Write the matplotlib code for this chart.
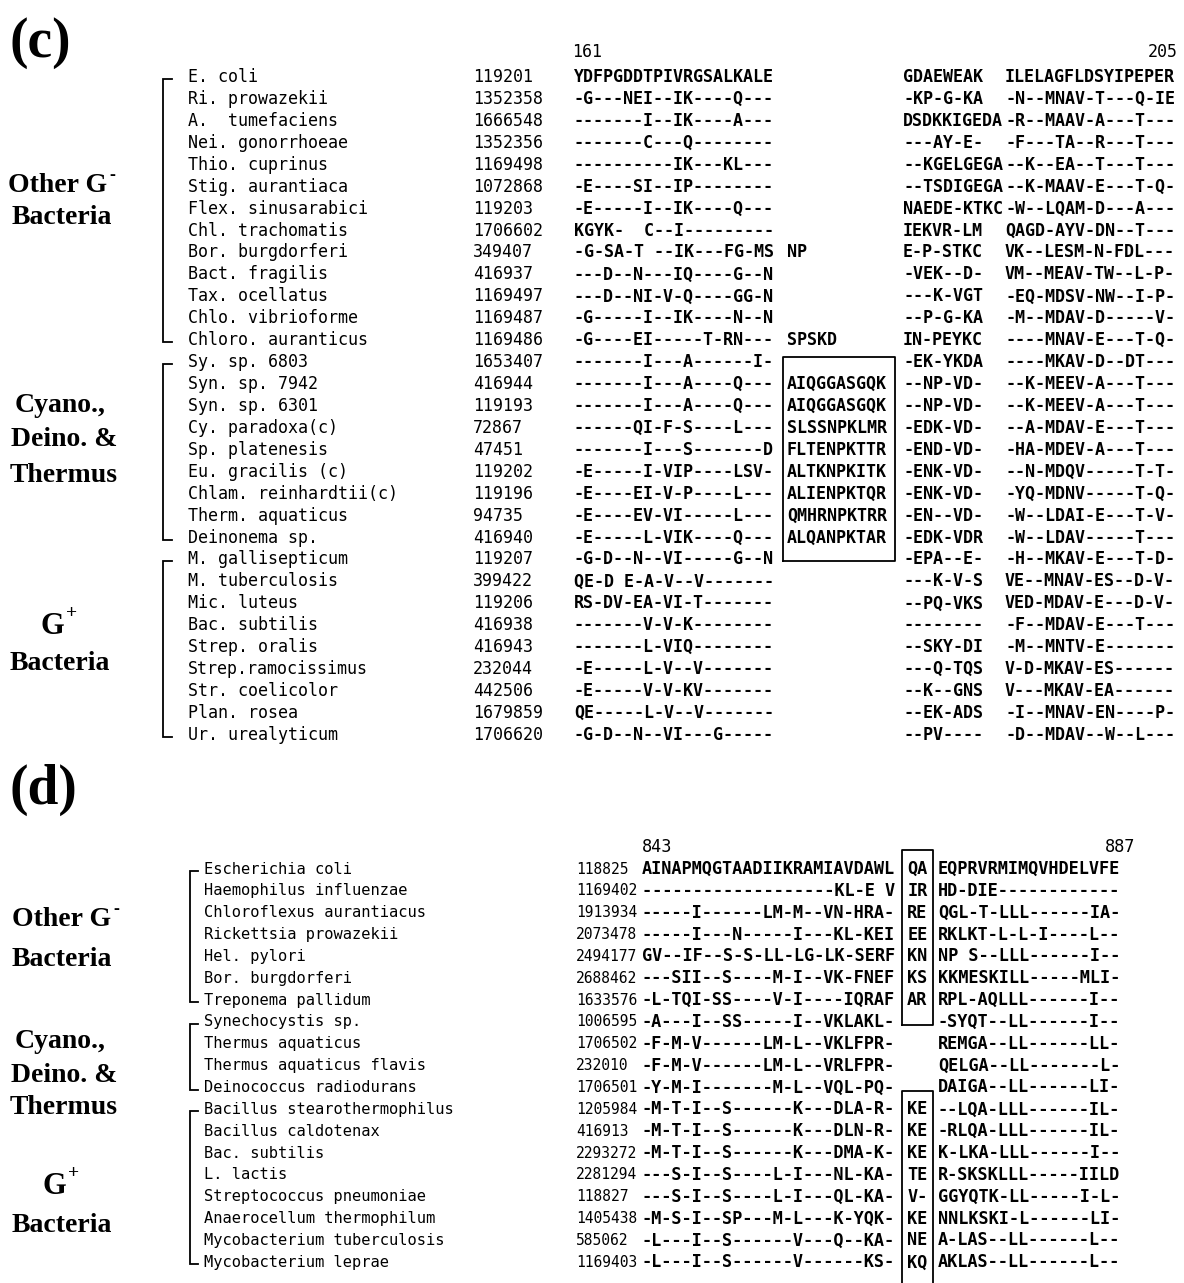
import matplotlib
matplotlib.use('Agg')
import matplotlib.pyplot as plt

# ---------------- data: panel (c) ----------------
c_names = ["E. coli", "Ri. prowazekii", "A.  tumefaciens", "Nei. gonorrhoeae", "Thio. cuprinus",
           "Stig. aurantiaca", "Flex. sinusarabici", "Chl. trachomatis", "Bor. burgdorferi",
           "Bact. fragilis", "Tax. ocellatus", "Chlo. vibrioforme", "Chloro. auranticus",
           "Sy. sp. 6803", "Syn. sp. 7942", "Syn. sp. 6301", "Cy. paradoxa(c)", "Sp. platenesis",
           "Eu. gracilis (c)", "Chlam. reinhardtii(c)", "Therm. aquaticus", "Deinonema sp.",
           "M. gallisepticum", "M. tuberculosis", "Mic. luteus", "Bac. subtilis", "Strep. oralis",
           "Strep.ramocissimus", "Str. coelicolor", "Plan. rosea", "Ur. urealyticum"]
c_ids = ["119201", "1352358", "1666548", "1352356", "1169498", "1072868", "119203", "1706602",
         "349407", "416937", "1169497", "1169487", "1169486", "1653407", "416944", "119193",
         "72867", "47451", "119202", "119196", "94735", "416940", "119207", "399422", "119206",
         "416938", "416943", "232044", "442506", "1679859", "1706620"]
c_segA = ["YDFPGDDTPIVRGSALKALE", "-G---NEI--IK----Q---", "-------I--IK----A---",
          "-------C---Q--------", "----------IK---KL---", "-E----SI--IP--------",
          "-E-----I--IK----Q---", "KGYK-  C--I---------", "-G-SA-T --IK---FG-MS",
          "---D--N---IQ----G--N", "---D--NI-V-Q----GG-N", "-G-----I--IK----N--N",
          "-G----EI-----T-RN---", "-------I---A------I-", "-------I---A----Q---",
          "-------I---A----Q---", "------QI-F-S----L---", "-------I---S-------D",
          "-E-----I-VIP----LSV-", "-E----EI-V-P----L---", "-E----EV-VI-----L---",
          "-E-----L-VIK----Q---", "-G-D--N--VI-----G--N", "QE-D E-A-V--V-------",
          "RS-DV-EA-VI-T-------", "-------V-V-K--------", "-------L-VIQ--------",
          "-E-----L-V--V-------", "-E-----V-V-KV-------", "QE-----L-V--V-------",
          "-G-D--N--VI---G-----"]
c_insert = ["", "", "", "", "", "", "", "", "NP", "", "", "", "SPSKD", "",
            "AIQGGASGQK", "AIQGGASGQK", "SLSSNPKLMR", "FLTENPKTTR", "ALTKNPKITK",
            "ALIENPKTQR", "QMHRNPKTRR", "ALQANPKTAR", "", "", "", "", "", "", "", "", ""]
c_segC = ["GDAEWEAK", "-KP-G-KA", "DSDKKIGEDA", "---AY-E-", "--KGELGEGA", "--TSDIGEGA",
          "NAEDE-KTKC", "IEKVR-LM", "E-P-STKC", "-VEK--D-", "---K-VGT", "--P-G-KA",
          "IN-PEYKC", "-EK-YKDA", "--NP-VD-", "--NP-VD-", "-EDK-VD-", "-END-VD-",
          "-ENK-VD-", "-ENK-VD-", "-EN--VD-", "-EDK-VDR", "-EPA--E-", "---K-V-S",
          "--PQ-VKS", "--------", "--SKY-DI", "---Q-TQS", "--K--GNS", "--EK-ADS", "--PV----"]
c_segD = ["ILELAGFLDSYIPEPER", "-N--MNAV-T---Q-IE", "-R--MAAV-A---T---", "-F---TA--R---T---",
          "--K--EA--T---T---", "--K-MAAV-E---T-Q-", "-W--LQAM-D---A---", "QAGD-AYV-DN--T---",
          "VK--LESM-N-FDL---", "VM--MEAV-TW--L-P-", "-EQ-MDSV-NW--I-P-", "-M--MDAV-D-----V-",
          "----MNAV-E---T-Q-", "----MKAV-D--DT---", "--K-MEEV-A---T---", "--K-MEEV-A---T---",
          "--A-MDAV-E---T---", "-HA-MDEV-A---T---", "--N-MDQV-----T-T-", "-YQ-MDNV-----T-Q-",
          "-W--LDAI-E---T-V-", "-W--LDAV-----T---", "-H--MKAV-E---T-D-", "VE--MNAV-ES--D-V-",
          "VED-MDAV-E---D-V-", "-F--MDAV-E---T---", "-M--MNTV-E-------", "V-D-MKAV-ES------",
          "V---MKAV-EA------", "-I--MNAV-EN----P-", "-D--MDAV--W--L---"]
c_groups = [(0, 12), (13, 21), (22, 30)]
c_box_rows = (13, 22)
c_start, c_end = "161", "205"

# ---------------- data: panel (d) ----------------
d_names = ["Escherichia coli", "Haemophilus influenzae", "Chloroflexus aurantiacus",
           "Rickettsia prowazekii", "Hel. pylori", "Bor. burgdorferi", "Treponema pallidum",
           "Synechocystis sp.", "Thermus aquaticus", "Thermus aquaticus flavis",
           "Deinococcus radiodurans", "Bacillus stearothermophilus", "Bacillus caldotenax",
           "Bac. subtilis", "L. lactis", "Streptococcus pneumoniae", "Anaerocellum thermophilum",
           "Mycobacterium tuberculosis", "Mycobacterium leprae"]
d_ids = ["118825", "1169402", "1913934", "2073478", "2494177", "2688462", "1633576", "1006595",
         "1706502", "232010", "1706501", "1205984", "416913", "2293272", "2281294", "118827",
         "1405438", "585062", "1169403"]
d_segA = ["AINAPMQGTAADIIKRAMIAVDAWL", "-------------------KL-E V", "-----I------LM-M--VN-HRA-",
          "-----I---N-----I---KL-KEI", "GV--IF--S-S-LL-LG-LK-SERF", "---SII--S----M-I--VK-FNEF",
          "-L-TQI-SS----V-I----IQRAF", "-A---I--SS-----I--VKLAKL-", "-F-M-V------LM-L--VKLFPR-",
          "-F-M-V------LM-L--VRLFPR-", "-Y-M-I-------M-L--VQL-PQ-", "-M-T-I--S------K---DLA-R-",
          "-M-T-I--S------K---DLN-R-", "-M-T-I--S------K---DMA-K-", "---S-I--S----L-I---NL-KA-",
          "---S-I--S----L-I---QL-KA-", "-M-S-I--SP---M-L---K-YQK-", "-L---I--S------V---Q--KA-",
          "-L---I--S------V------KS-"]
d_boxed = ["QA", "IR", "RE", "EE", "KN", "KS", "AR", "", "", "", "",
           "KE", "KE", "KE", "TE", "V-", "KE", "NE", "KQ"]
d_segC = ["EQPRVRMIMQVHDELVFE", "HD-DIE------------", "QGL-T-LLL------IA-", "RKLKT-L-L-I----L--",
          "NP S--LLL------I--", "KKMESKILL-----MLI-", "RPL-AQLLL------I--", "-SYQT--LL------I--",
          "REMGA--LL------LL-", "QELGA--LL-------L-", "DAIGA--LL------LI-", "--LQA-LLL------IL-",
          "-RLQA-LLL------IL-", "K-LKA-LLL------I--", "R-SKSKLLL-----IILD", "GGYQTK-LL-----I-L-",
          "NNLKSKI-L------LI-", "A-LAS--LL------L--", "AKLAS--LL------L--"]
d_groups = [(0, 6), (7, 10), (11, 18)]
d_box1_rows = (0, 7)
d_box2_rows = (10, 18)
d_start, d_end = "843", "887"

# ---------------- drawing ----------------
W, H = 1184, 1283
fig = plt.figure(figsize=(W / 100, H / 100), dpi=100)
ax = fig.add_axes([0, 0, 1, 1])
ax.set_xlim(0, W)
ax.set_ylim(H, 0)
ax.axis('off')

MONO = 'DejaVu Sans Mono'
SERIF = 'Liberation Serif'
LW = 1.3


def mono(x, y, s, fs, **kw):
    ax.text(x, y, s, family=MONO, fontsize=fs, ha=kw.pop('ha', 'left'), va='center', **kw)


def serif(x, y, s, fs, ha='center'):
    ax.text(x, y, s, family=SERIF, fontsize=fs, fontweight='bold', ha=ha, va='center')


def bracket(x, y1, y2, tick):
    ax.plot([x + tick, x, x, x + tick], [y1, y1, y2, y2], color='black', lw=LW,
            solid_joinstyle='miter')


SEQW = 'bold'

# ---- panel (c) ----
serif(10, 43, "(c)", 40, ha='left')
cy0, cdy = 77, 21.93
cfs = 12.0
xA, xI, xC, xD = 574, 787, 903, 1005
mono(xA - 2, 52, c_start, cfs)
mono(1178, 52, c_end, cfs, ha='right')
for i in range(len(c_names)):
    y = cy0 + i * cdy
    mono(188, y, c_names[i], cfs)
    mono(473, y, c_ids[i], cfs)
    mono(xA, y, c_segA[i], cfs, fontweight=SEQW)
    if c_insert[i]:
        mono(xI, y, c_insert[i], cfs, fontweight=SEQW)
    mono(xC, y, c_segC[i], cfs, fontweight=SEQW)
    mono(xD, y, c_segD[i], cfs, fontweight=SEQW)
for a, b in c_groups:
    bracket(163, cy0 + a * cdy + 2, cy0 + b * cdy + 2, 9)
bt = cy0 + c_box_rows[0] * cdy - 5
bb = cy0 + c_box_rows[1] * cdy + 2
ax.plot([783, 783, 895, 895, 783], [bb, bt, bt, bb, bb], color='black', lw=LW)

gfs = 20
serif(58, 185, "Other G", gfs)
ax.text(109, 176, "-", family=SERIF, fontsize=13, fontweight='bold', ha='left', va='center')
serif(62, 218, "Bacteria", gfs)
serif(60, 405, "Cyano.,", gfs)
serif(64, 440, "Deino. &", gfs)
serif(64, 476, "Thermus", gfs)
serif(52, 626, "G", gfs + 2)
ax.text(66, 614, "+", family=SERIF, fontsize=14, fontweight='bold', ha='left', va='center')
serif(60, 663, "Bacteria", gfs)

# ---- panel (d) ----
serif(10, 790, "(d)", 40, ha='left')
dy0, ddy = 869, 21.85
dfs = 12.2
dw = 10.2
xdA = 642
mono(xdA, 847, d_start, dfs)
mono(1135, 847, d_end, dfs, ha='right')
nfs = 11.1
for i in range(len(d_names)):
    y = dy0 + i * ddy
    mono(204, y, d_names[i], nfs)
    mono(576, y, d_ids[i], 10.5)
    mono(xdA, y, d_segA[i], dfs, fontweight=SEQW)
    if d_boxed[i]:
        mono(xdA + 26 * dw, y, d_boxed[i], dfs, fontweight=SEQW)
    mono(xdA + 29 * dw, y, d_segC[i], dfs, fontweight=SEQW)
for a, b in d_groups:
    bracket(190, dy0 + a * ddy + 2, dy0 + b * ddy + 2, 8)
bl, br = xdA + 25.5 * dw, xdA + 28.5 * dw
t1 = dy0 + d_box1_rows[0] * ddy - 19
b1 = dy0 + d_box1_rows[1] * ddy + 3
ax.plot([bl, bl, br, br, bl], [b1, t1, t1, b1, b1], color='black', lw=LW)
t2 = dy0 + d_box2_rows[0] * ddy + 3
ax.plot([bl, bl, br, br], [H + 5, t2, t2, H + 5], color='black', lw=LW)

serif(62, 919, "Other G", gfs)
ax.text(113, 910, "-", family=SERIF, fontsize=13, fontweight='bold', ha='left', va='center')
serif(62, 960, "Bacteria", gfs)
serif(60, 1042, "Cyano.,", gfs)
serif(64, 1075, "Deino. &", gfs)
serif(64, 1108, "Thermus", gfs)
serif(54, 1186, "G", gfs + 2)
ax.text(68, 1174, "+", family=SERIF, fontsize=14, fontweight='bold', ha='left', va='center')
serif(62, 1226, "Bacteria", gfs)

fig.savefig("out.png", dpi=100)
